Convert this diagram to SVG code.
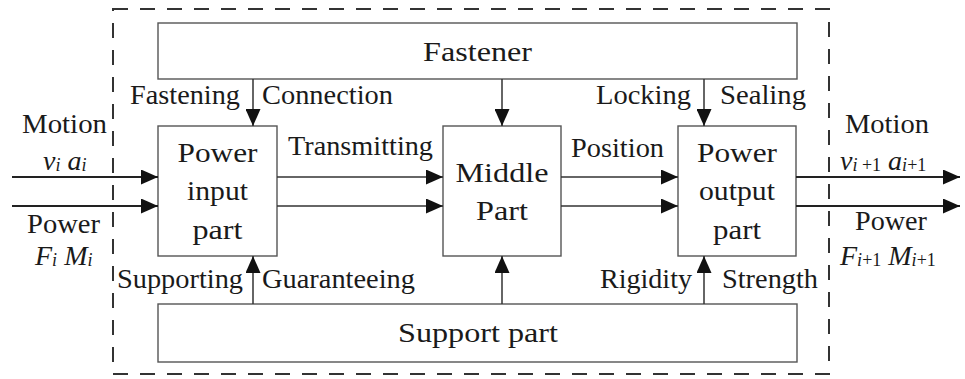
<svg xmlns="http://www.w3.org/2000/svg" width="965" height="379" viewBox="0 0 965 379">
<defs>
<style>
.box{fill:#fff;stroke:#555;stroke-width:1.4}
.frame{fill:none;stroke:#333;stroke-width:2;stroke-dasharray:15 12}
text{font-family:'Liberation Serif','DejaVu Serif',serif;font-size:28px;fill:#1a1a1a}
.m{text-anchor:middle}
.it{font-style:italic}
.sub{font-size:18px}
.c{stroke:#333;stroke-width:1.5;fill:none}
.cw{stroke:#222;stroke-width:2.2;fill:none}
</style>
<marker id="ah" markerUnits="userSpaceOnUse" viewBox="0 0 17 15" markerWidth="17" markerHeight="15" refX="17" refY="7.5" orient="auto">
<path d="M0,0 L17,7.5 L0,15 z" fill="#111"/>
</marker>
</defs>
<rect width="965" height="379" fill="#fff"/>
<rect id="boundary" class="frame" x="113" y="9" width="716" height="365"/>

<g id="fastener">
<rect class="box" x="158" y="23" width="639" height="56"/>
<text class="m" x="477.5" y="61" textLength="109" lengthAdjust="spacingAndGlyphs">Fastener</text>
</g>
<g id="power-input-part">
<rect class="box" x="158" y="126" width="119" height="130"/>
<text class="m" x="217.5" y="162" textLength="80" lengthAdjust="spacingAndGlyphs">Power</text>
<text class="m" x="217.5" y="200" textLength="61" lengthAdjust="spacingAndGlyphs">input</text>
<text class="m" x="217.5" y="239" textLength="50" lengthAdjust="spacingAndGlyphs">part</text>
</g>
<g id="middle-part">
<rect class="box" x="443" y="126" width="118" height="130"/>
<text class="m" x="502" y="182" textLength="93" lengthAdjust="spacingAndGlyphs">Middle</text>
<text class="m" x="502" y="220" textLength="52" lengthAdjust="spacingAndGlyphs">Part</text>
</g>
<g id="power-output-part">
<rect class="box" x="678" y="126" width="118" height="130"/>
<text class="m" x="737" y="162" textLength="80" lengthAdjust="spacingAndGlyphs">Power</text>
<text class="m" x="737" y="200" textLength="76" lengthAdjust="spacingAndGlyphs">output</text>
<text class="m" x="737" y="239" textLength="48" lengthAdjust="spacingAndGlyphs">part</text>
</g>
<g id="support-part">
<rect class="box" x="158" y="304" width="639" height="58"/>
<text class="m" x="478" y="342" textLength="160" lengthAdjust="spacingAndGlyphs">Support part</text>
</g>

<g id="connectors">
<path class="cw" d="M12,177 H158" marker-end="url(#ah)"/>
<path class="cw" d="M12,206 H158" marker-end="url(#ah)"/>
<path class="c" d="M277,177 H443" marker-end="url(#ah)"/>
<path class="c" d="M277,206 H443" marker-end="url(#ah)"/>
<path class="c" d="M561,177 H678" marker-end="url(#ah)"/>
<path class="c" d="M561,206 H678" marker-end="url(#ah)"/>
<path class="cw" d="M796,177 H960" marker-end="url(#ah)"/>
<path class="cw" d="M796,206 H960" marker-end="url(#ah)"/>
<path class="c" d="M253,79 V126" marker-end="url(#ah)"/>
<path class="c" d="M502,79 V126" marker-end="url(#ah)"/>
<path class="c" d="M704,79 V126" marker-end="url(#ah)"/>
<path class="c" d="M253,304 V256" marker-end="url(#ah)"/>
<path class="c" d="M502,304 V256" marker-end="url(#ah)"/>
<path class="c" d="M704,304 V256" marker-end="url(#ah)"/>
</g>

<g id="labels">
<text x="130" y="104" textLength="110" lengthAdjust="spacingAndGlyphs">Fastening</text>
<text x="262" y="104" textLength="131" lengthAdjust="spacingAndGlyphs">Connection</text>
<text x="596" y="104" textLength="95" lengthAdjust="spacingAndGlyphs">Locking</text>
<text x="720" y="104" textLength="86" lengthAdjust="spacingAndGlyphs">Sealing</text>
<text x="288" y="155" textLength="145" lengthAdjust="spacingAndGlyphs">Transmitting</text>
<text x="571" y="157" textLength="93" lengthAdjust="spacingAndGlyphs">Position</text>
<text x="117" y="288" textLength="126" lengthAdjust="spacingAndGlyphs">Supporting</text>
<text x="262" y="288" textLength="153" lengthAdjust="spacingAndGlyphs">Guaranteeing</text>
<text x="600" y="288" textLength="92" lengthAdjust="spacingAndGlyphs">Rigidity</text>
<text x="722" y="288" textLength="96" lengthAdjust="spacingAndGlyphs">Strength</text>

<text x="22" y="133" textLength="85" lengthAdjust="spacingAndGlyphs">Motion</text>
<text class="it" x="43" y="170">v<tspan class="sub" dy="1">i</tspan><tspan dy="-1"> a</tspan><tspan class="sub" dy="1">i</tspan></text>
<text x="27" y="233" textLength="73" lengthAdjust="spacingAndGlyphs">Power</text>
<text class="it" x="35" y="265">F<tspan class="sub" dy="1">i</tspan><tspan dy="-1"> M</tspan><tspan class="sub" dy="1">i</tspan></text>

<text x="845" y="133" textLength="84" lengthAdjust="spacingAndGlyphs">Motion</text>
<text class="it" x="840" y="170">v<tspan class="sub" dy="1">i </tspan><tspan class="sub" font-style="normal">+1</tspan><tspan dy="-1">  a</tspan><tspan class="sub" dy="1">i</tspan><tspan class="sub" font-style="normal">+1</tspan></text>
<text x="855" y="230" textLength="72" lengthAdjust="spacingAndGlyphs">Power</text>
<text class="it" x="840" y="265">F<tspan class="sub" dy="1">i</tspan><tspan class="sub" font-style="normal">+1</tspan><tspan dy="-1"> M</tspan><tspan class="sub" dy="1">i</tspan><tspan class="sub" font-style="normal">+1</tspan></text>
</g>
</svg>
